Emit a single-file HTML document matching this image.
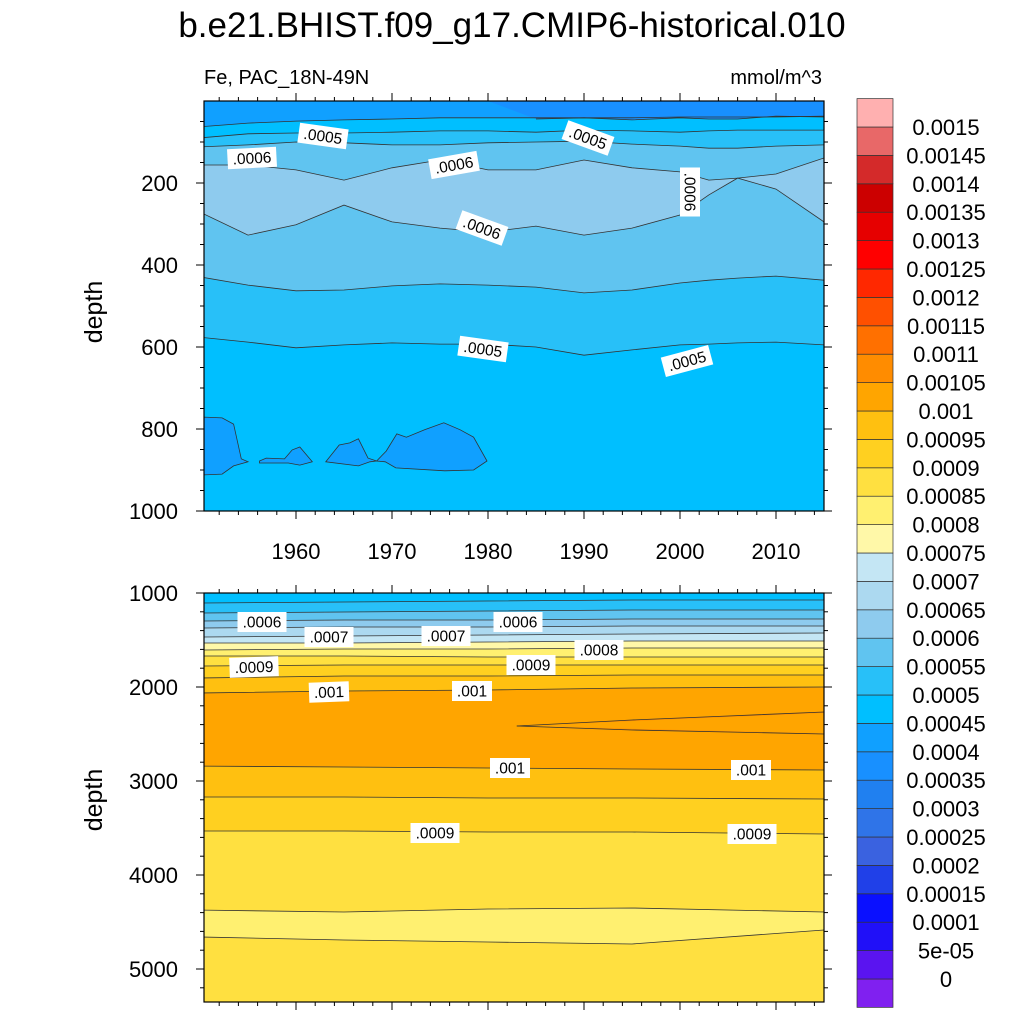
<!DOCTYPE html>
<html><head><meta charset="utf-8"><style>
body{margin:0;background:#fff}
svg{display:block;font-family:"Liberation Sans",sans-serif}
</style></head><body>
<svg id="s" width="1024" height="1024" viewBox="0 0 1024 1024" xmlns="http://www.w3.org/2000/svg">
<defs>
<clipPath id="c1"><rect x="204" y="101" width="620" height="410"/></clipPath>
<clipPath id="c2"><rect x="204" y="593" width="620" height="409"/></clipPath>
</defs>
<text x="512" y="37" font-size="35" text-anchor="middle">b.e21.BHIST.f09_g17.CMIP6-historical.010</text>
<text x="204" y="84" font-size="20">Fe, PAC_18N-49N</text>
<text x="822" y="84" font-size="20" text-anchor="end">mmol/m^3</text>
<text transform="translate(102,312) rotate(-90)" font-size="25" text-anchor="middle">depth</text>
<text transform="translate(102,800) rotate(-90)" font-size="25" text-anchor="middle">depth</text>
<g id="p1" clip-path="url(#c1)"></g>
<g id="p2" clip-path="url(#c2)"></g>
<g id="ax"></g>
<g id="cb"></g>
</svg>
<script>
const colorbarLabels=["0","5e-05","0.0001","0.00015","0.0002","0.00025","0.0003","0.00035","0.0004","0.00045","0.0005","0.00055","0.0006","0.00065","0.0007","0.00075","0.0008","0.00085","0.0009","0.00095","0.001","0.00105","0.0011","0.00115","0.0012","0.00125","0.0013","0.00135","0.0014","0.00145","0.0015"];
const colorbarColors=["#8020f0","#5a14f0","#2010f8","#0a10ff","#2040e8","#3a62e0","#2f74e8","#2080f0","#1890ff","#10a0ff","#00bfff","#28c0f8","#60c4f0","#8ecbee","#acd9f0","#c4e6f4","#fff8a8","#fff070","#ffe040","#ffd020","#ffc010","#ffa500","#ff8c00","#ff7000","#ff5000","#ff2800","#ff0000","#e60000","#cc0000","#d42a2a","#e86868","#ffb0b0"];
const yearTicks=[1960,1970,1980,1990,2000,2010];
const topDepthTicks=[200,400,600,800,1000];
const bottomDepthTicks=[1000,2000,3000,4000,5000];
// top panel contour depths
const topYears=[1950,1955,1960,1965,1970,1975,1980,1985,1990,1995,2000,2003,2006,2010,2015];
const topL04=[0,0,0,0,0,0,0,44,41,46,41,44,44,37,39];
const topL045=[63,54,49,46,44,41,41,41,41,41,39,39,39,39,37];
const topL05=[90,80,78,78,76,73,73,76,71,73,76,73,71,71,71];
const topL055=[112,107,100,102,107,107,102,100,98,105,110,115,115,110,107];
const topL06a=[156,156,168,193,163,144,168,168,144,163,173,193,188,178,139];
const topL06b=[271,327,302,254,295,310,320,305,327,310,278,229,188,215,295];
const topL055b=[429,449,463,461,451,446,449,454,468,461,444,437,432,427,437];
const topL05b=[576,588,602,595,590,593,593,600,620,607,595,593,590,588,595];
const blobYears=[[1950.4,1952.3,1953.5,1954.3,1955,1953.5,1952.3,1950.4],[1956.2,1956.9,1958.8,1959.6,1960.4,1961.7,1960.4,1959.2,1956.2],[1963.1,1964.5,1965.6,1966.5,1967.5,1968.4,1967.7,1966.5,1963.1],[1968.4,1969.4,1970.5,1971.5,1973.4,1975.4,1977.1,1978.5,1979.9,1978.5,1975.5,1970.4,1969.3]];
const blobDepths=[[771,773,788,873,880,890,910,912],[878,871,873,851,844,880,888,883,883],[880,839,834,824,871,878,880,890,880],[878,854,812,820,802,785,802,820,878,900,902,895,880]];
// bottom panel contour depths
const botYears=[1950,1965,1980,1995,2015];
const botLevelsTop=[[1106,1096,1085,1074,1074],[1213,1202,1191,1181,1181],[1298,1287,1287,1277,1277],[1372,1362,1362,1351,1351],[1468,1457,1447,1436,1426],[1532,1532,1521,1511,1511],[1606,1596,1596,1585,1585],[1670,1670,1681,1681,1681],[1777,1766,1766,1766,1766],[1904,1883,1883,1872,1872],[2064,2043,2032,2011,2000]];
const botL001b=[2841,2851,2862,2872,2883];
const botL095b=[3170,3170,3181,3181,3191];
const botL09b=[3532,3532,3543,3543,3564];
const botL085a=[4373,4394,4362,4351,4394];
const botL085b=[4660,4692,4713,4734,4585];
const wedgeYears=[1983,1995,2005,2015];
const wedgeTop=[2415,2351,2309,2266];
const wedgeBot=[2415,2457,2479,2500];

const NS="http://www.w3.org/2000/svg";
const X=yr=>296+(yr-1960)*9.6;
const YT=d=>101+d*0.41;
const YB=d=>593+(d-1000)*0.094;
function mk(tag,attrs,parent){const e=document.createElementNS(NS,tag);for(const k in attrs)e.setAttribute(k,attrs[k]);parent.appendChild(e);return e;}
function linePts(years,depths,Y){return years.map((yr,i)=>X(yr).toFixed(1)+","+Y(depths[i]).toFixed(1));}
function band(g,years,depths,Y,topD,color,name){
  const pts=linePts(years,depths,Y);
  const d="M"+X(years[0]-2)+","+Y(topD)+" L"+X(years[0]-2)+","+Y(depths[0])+" L"+pts.join(" L")+" L"+X(years[years.length-1]+2)+","+Y(depths[depths.length-1])+" L"+X(years[years.length-1]+2)+","+Y(topD)+" Z";
  const p=mk("path",{d:d,fill:color},g);
  
  
}
function cline(g,years,depths,Y,name){
  const p=mk("polyline",{points:linePts(years,depths,Y).join(" "),fill:"none",stroke:"#333",'stroke-width':0.8},g);
  
  
}
const C=colorbarColors;
// top panel
const g1=document.getElementById("p1");
let r=mk("rect",{x:204,y:101,width:620,height:410,fill:C[10]},g1);


const topSeq=[[topL05b,C[11],"band-0005b"],[topL055b,C[12],"band-00055b"],[topL06b,C[13],"band-0006b"],[topL06a,C[12],"band-0006a"],[topL055,C[11],"band-00055"],[topL05,C[10],"band-0005"],[topL045,C[9],"band-00045"],[topL04,C[8],"band-0004"]];
topSeq.forEach(s=>band(g1,topYears,s[0],YT,-10,s[1],s[2]));
blobYears.forEach((ys,i)=>{
  const pts=ys.map((yr,j)=>X(yr).toFixed(1)+","+YT(blobDepths[i][j]).toFixed(1)).join(" ");
  const p=mk("polygon",{points:pts,fill:C[9],stroke:"#333",'stroke-width':0.8},g1);
  
  
});
topSeq.forEach(s=>{ if(s[0]!==topL04) cline(g1,topYears,s[0],YT,"contour-line");});
cline(g1,topYears.slice(7),topL04.slice(7),YT,"contour-line");
// bottom panel
const g2=document.getElementById("p2");
r=mk("rect",{x:204,y:593,width:620,height:409,fill:C[18]},g2);


const botSeq=[[botL085b,C[17]],[botL085a,C[18]],[botL09b,C[19]],[botL095b,C[20]],[botL001b,C[21]]];
for(let i=botLevelsTop.length-1;i>=0;i--) botSeq.push([botLevelsTop[i],C[10+i]]);
botSeq.forEach(s=>band(g2,botYears,s[0],YB,900,s[1],"band"));
const wp=wedgeYears.map((yr,i)=>X(yr).toFixed(1)+","+YB(wedgeTop[i]).toFixed(1)).concat(wedgeYears.slice().reverse().map((yr,i)=>X(yr).toFixed(1)+","+YB(wedgeBot[wedgeBot.length-1-i]).toFixed(1)));
const w=mk("polygon",{points:wp.join(" ")+" "+(X(2017))+","+YB(2500)+" "+X(2017)+","+YB(2266),fill:C[22]},g2);


cline(g2,wedgeYears,wedgeTop,YB,"contour-line");
cline(g2,wedgeYears,wedgeBot,YB,"contour-line");
botSeq.forEach(s=>cline(g2,botYears,s[0],YB,"contour-line"));
// contour labels
const labels=[[".0005",323,136,8,g1],[".0006",252,158,-3,g1],[".0006",454,165,-10,g1],[".0005",588,138,20,g1],[".0006",690,192,90,g1],[".0006",482,228,20,g1],[".0005",483,349,8,g1],[".0005",687,361,-15,g1],
[".0006",262,622,0,g2],[".0007",329,637,0,g2],[".0007",446,636,0,g2],[".0006",518,622,0,g2],[".0008",599,650,0,g2],[".0009",254,667,-2,g2],[".0009",531,665,0,g2],[".001",329,692,-2,g2],[".001",472,691,0,g2],[".001",510,768,0,g2],[".001",751,770,0,g2],[".0009",435,833,0,g2],[".0009",752,834,0,g2]];
labels.forEach(l=>{
  const g=mk("g",{transform:`translate(${l[1]},${l[2]}) rotate(${l[3]})`},l[4]);
  
  
  const wd=l[0].length*9+4;
  mk("rect",{x:-wd/2,y:-10,width:wd,height:20,fill:"#fff"},g);
  const t=mk("text",{x:0,y:5.5,'font-size':15.5,'text-anchor':'middle'},g);t.textContent=l[0];
});
// axes
const ax=document.getElementById("ax");
function axesFor(y0,y1,Yf,majors,minorStep,minorMax,minorMin,name){
  const f=mk("rect",{x:204,y:y0,width:620,height:y1-y0,fill:"none",stroke:"#000",'stroke-width':1.2},ax);
  
  
  for(let yr=1952;yr<=2014;yr+=2){
    const L=(yr%10===0)?8:4;
    mk("line",{x1:X(yr),x2:X(yr),y1:y1,y2:y1+L,stroke:"#000"},ax);
    mk("line",{x1:X(yr),x2:X(yr),y1:y0,y2:y0-L,stroke:"#000"},ax);
  }
  for(let d=minorMin;d<=minorMax;d+=minorStep){
    const y=Yf(d); if(y<y0-0.5||y>y1+0.5) continue;
    const L=majors.includes(d)?8:4;
    mk("line",{x1:204,x2:204-L,y1:y,y2:y,stroke:"#000"},ax);
    mk("line",{x1:824,x2:824+L,y1:y,y2:y,stroke:"#000"},ax);
  }
  majors.forEach(d=>{const t=mk("text",{x:178,y:Yf(d)+8,'font-size':22,'text-anchor':'end'},ax);t.textContent=d;
    
    });
}
axesFor(101,511,YT,topDepthTicks,50,1000,50,"top-panel");
axesFor(593,1002,YB,bottomDepthTicks,200,5400,1000,"bottom-panel");
yearTicks.forEach(yr=>{const t=mk("text",{x:X(yr),y:559,'font-size':22,'text-anchor':'middle'},ax);t.textContent=yr;
  
  });
// colorbar
const cb=document.getElementById("cb");
const h=(979-127)/30;
C.forEach((c,i)=>{
  const y=979+h-(i+1)*h;
  const b=mk("rect",{x:857,y:y,width:36,height:h,fill:c,stroke:"#333",'stroke-width':0.7},cb);
  
  
});
colorbarLabels.forEach((s,i)=>{
  const t=mk("text",{x:946,y:979-i*h+8,'font-size':22,'text-anchor':'middle'},cb);t.textContent=s;
  
  
});
</script>
</body></html>
